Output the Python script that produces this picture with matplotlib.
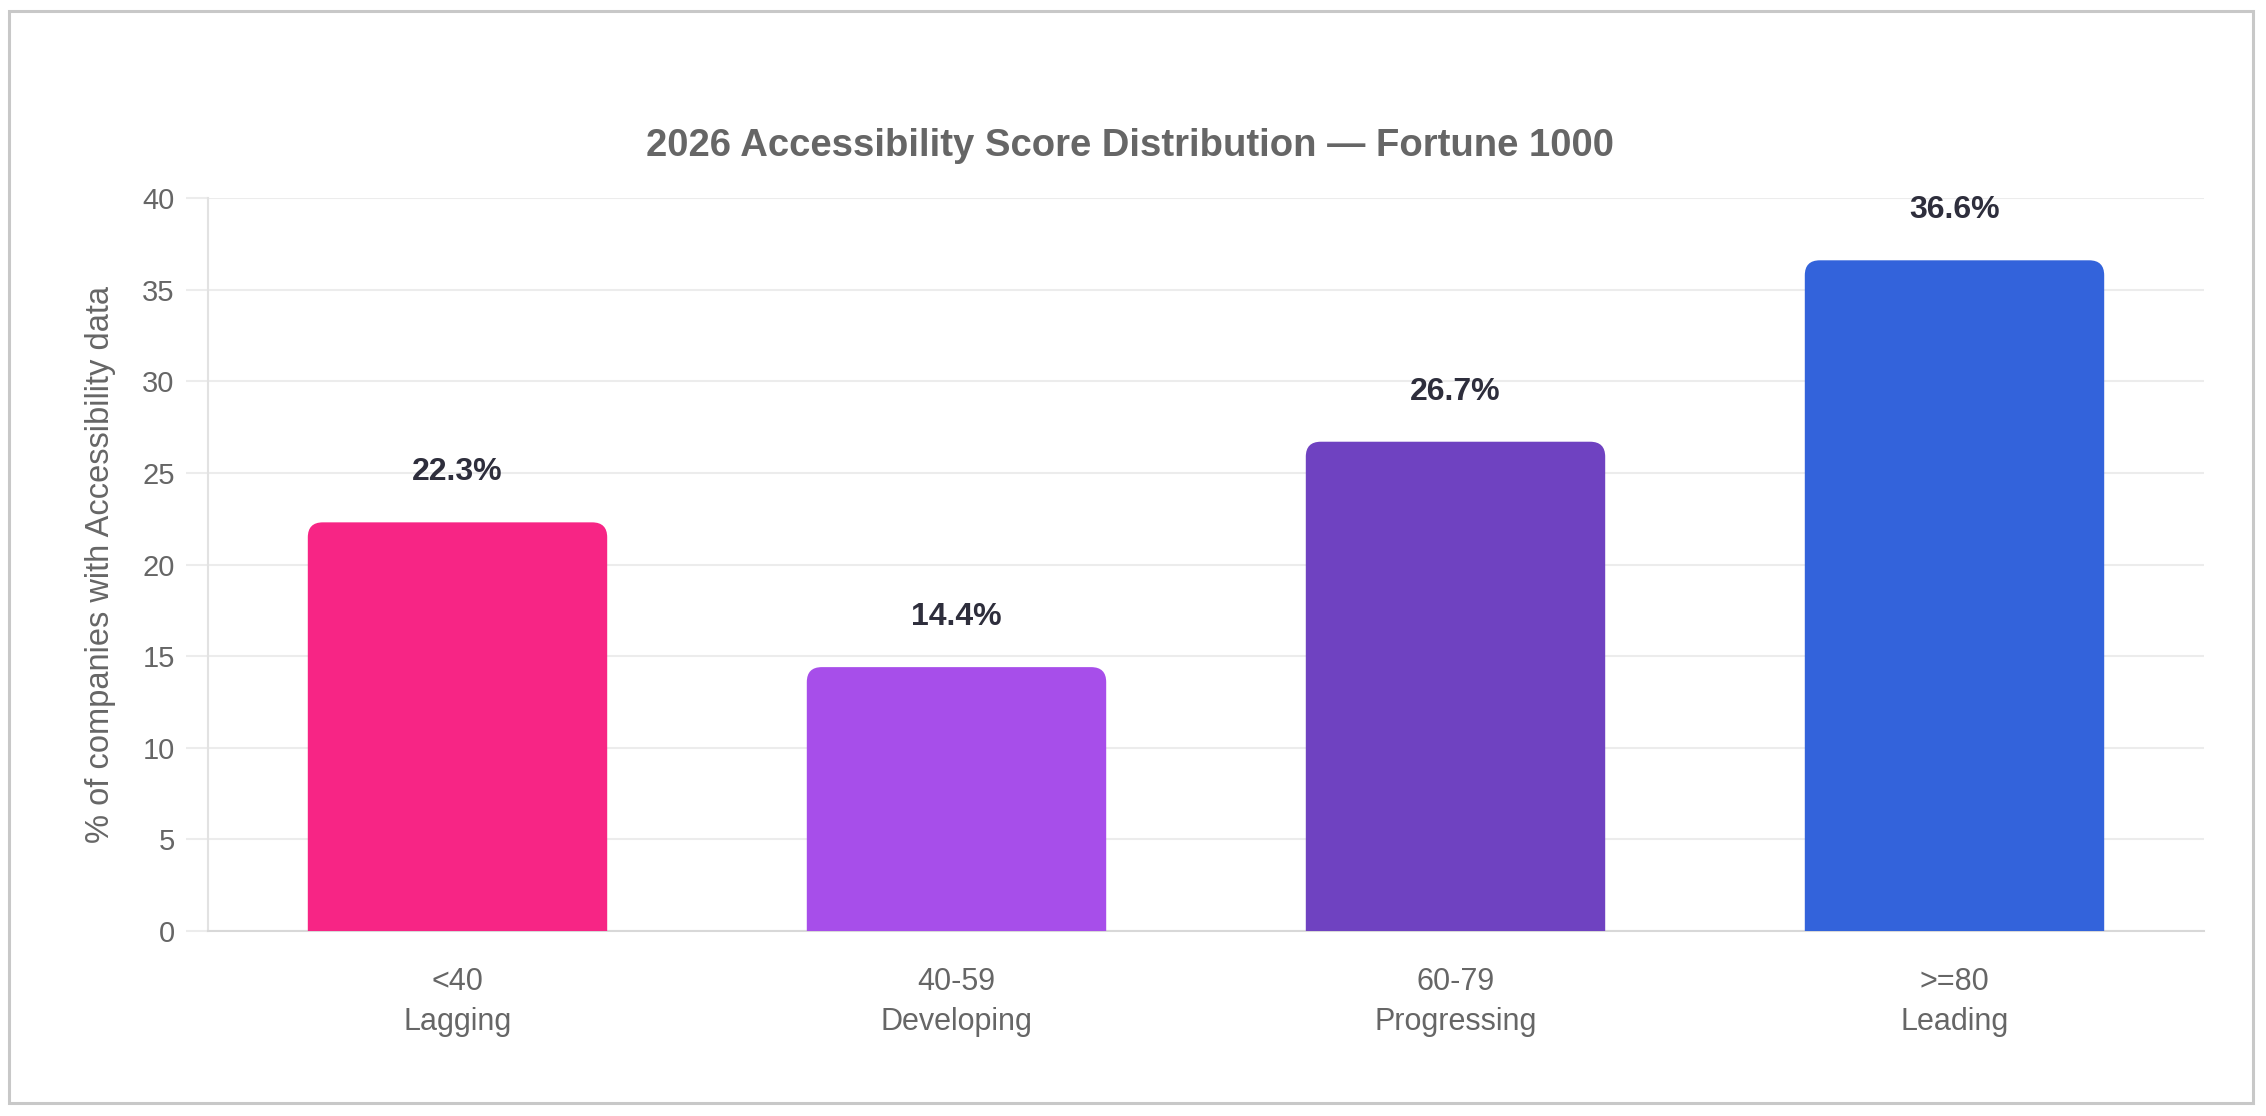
import matplotlib.pyplot as plt
from matplotlib.path import Path
from matplotlib.patches import PathPatch, Rectangle

categories = ['<40\nLagging', '40-59\nDeveloping', '60-79\nProgressing', '>=80\nLeading']
values = [22.3, 14.4, 26.7, 36.6]
colors = ['#F72585', '#A74EEA', '#6F42C1', '#3363DB']
y_ticks = [0, 5, 10, 15, 20, 25, 30, 35, 40]

plt.rcParams['font.family'] = ['Liberation Sans', 'DejaVu Sans']

W, H = 2266, 1116
fig = plt.figure(figsize=(W / 100, H / 100), dpi=100)
ax = fig.add_axes([208 / W, 1 - 931 / H, (2204 - 208) / W, (931 - 198) / H])

ax.set_xlim(-0.5, 3.5)
ax.set_ylim(0, 40)

# pixel -> data units for the rounded corners
ax_w = (2204 - 208)
ax_h = (931 - 198)
r_px = 15
rx = r_px * 4.0 / ax_w
ry = r_px * 40.0 / ax_h


def rounded_bar(x, h, w, color):
    x0, x1 = x - w / 2, x + w / 2
    verts = [(x0, 0), (x0, h - ry), (x0, h), (x0 + rx, h),
             (x1 - rx, h), (x1, h), (x1, h - ry), (x1, 0), (x0, 0)]
    codes = [Path.MOVETO, Path.LINETO, Path.CURVE3, Path.CURVE3,
             Path.LINETO, Path.CURVE3, Path.CURVE3, Path.LINETO, Path.CLOSEPOLY]
    ax.add_patch(PathPatch(Path(verts, codes), facecolor=color, edgecolor='none', zorder=3))


for i, (v, c) in enumerate(zip(values, colors)):
    rounded_bar(i, v, 0.6, c)
    ax.annotate(f'{v}%', xy=(i, v), xytext=(0, 36), textcoords='offset points',
                ha='center', va='center', fontsize=23, fontweight='bold', color='#2e2e3c')

ax.set_yticks(y_ticks)
ax.set_xticks(range(len(categories)))
ax.set_xticklabels(categories, linespacing=1.42)
ax.grid(axis='y', color='#ececec', linewidth=1.5, zorder=0)
ax.set_axisbelow(True)
ax.tick_params(axis='y', length=16, width=1.5, color='#ececec', labelsize=21, labelcolor='#666666', pad=8)
ax.tick_params(axis='x', length=0, labelsize=22, labelcolor='#666666', pad=26)
for s in ['top', 'right']:
    ax.spines[s].set_visible(False)
ax.spines['left'].set_color('#e2e2e2')
ax.spines['left'].set_linewidth(1.5)
ax.spines['bottom'].set_color('#d8d8d8')
ax.spines['bottom'].set_linewidth(1.5)

ax.set_ylabel('% of companies with Accessibility data', fontsize=23.5, color='#666666', labelpad=19)
fig.text(1130 / W, 1 - 146 / H, '2026 Accessibility Score Distribution — Fortune 1000',
         ha='center', va='center', fontsize=27.5, fontweight='bold', color='#666666')

fig.patches.append(Rectangle((9 / W, 1 - 1103 / H), (2253 - 9) / W, (1103 - 11) / H,
                             transform=fig.transFigure, fill=False, edgecolor='#c8c8c8', linewidth=2.2))

fig.savefig('out.png', dpi=100, facecolor='white')
